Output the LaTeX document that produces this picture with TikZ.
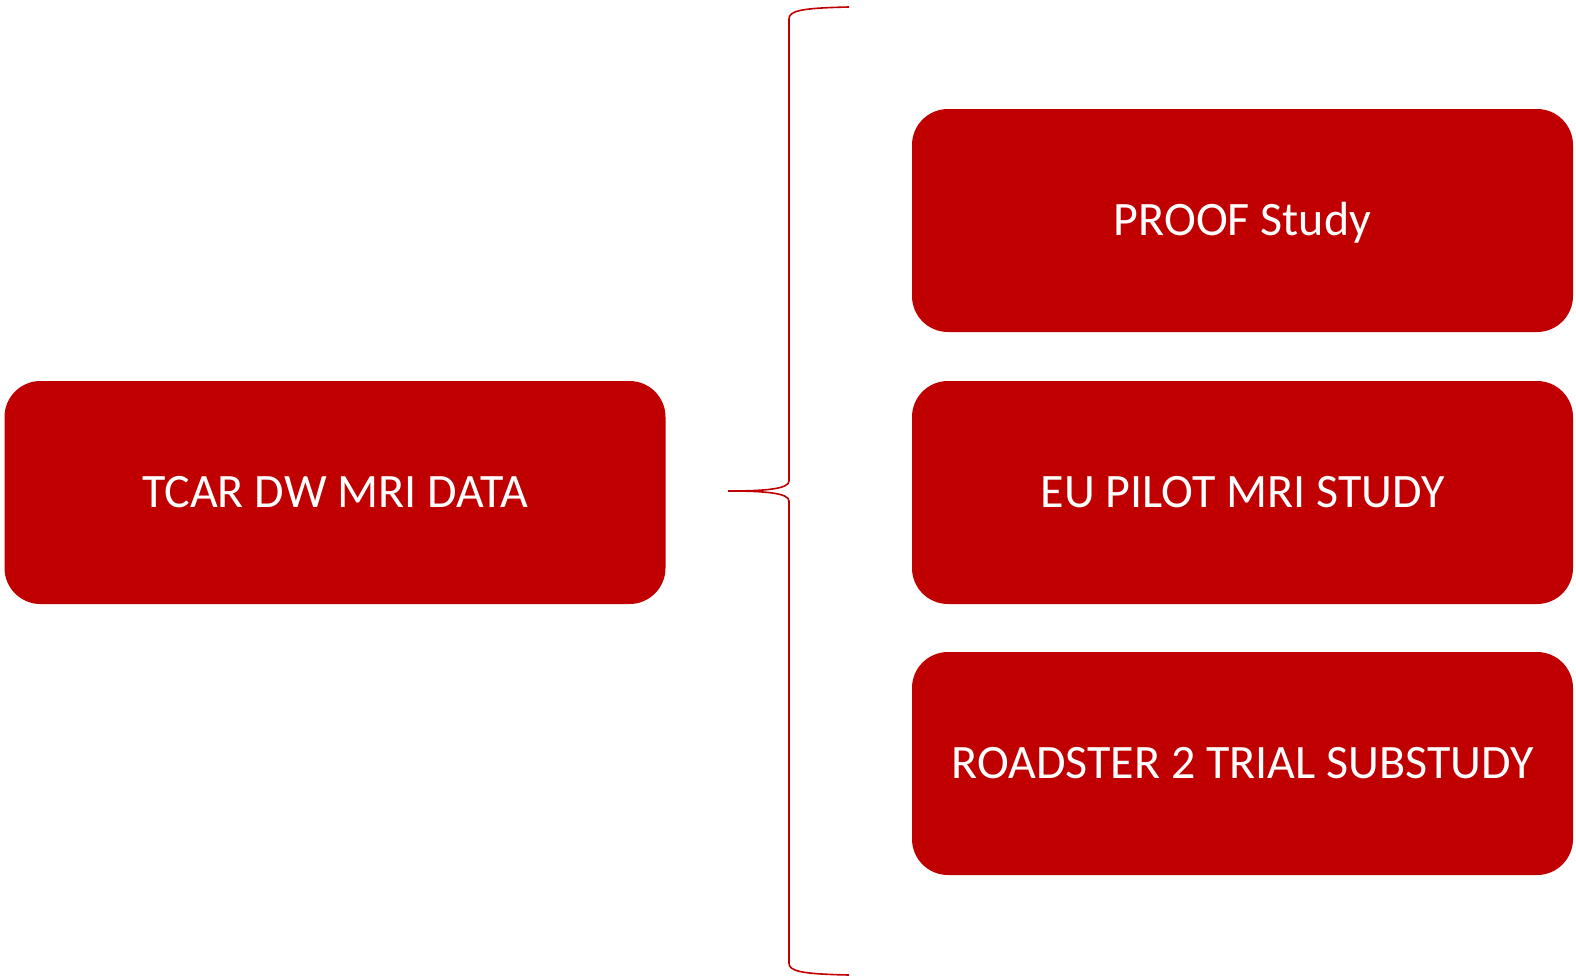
\documentclass[tikz,border=0pt]{standalone}
\usepackage{fontspec}
\setmainfont{Carlito}
\definecolor{boxred}{HTML}{C00000}
\tikzset{
  studybox/.style={fill=boxred, text=white, rounded corners=18pt, inner sep=0pt,
    minimum width=330.5pt, minimum height=111.5pt, text height=15pt, text depth=0pt,
    font=\fontsize{24}{29}\selectfont},
  bracket/.style={draw=boxred, line width=0.8pt}
}
\begin{document}
\begin{tikzpicture}[x=0.5pt, y=-0.5pt]
    \useasboundingbox (0,0) rectangle (1576,980);

    % source
    \node[studybox] (tcar) at (335,492.5) {TCAR DW MRI DATA};

    % studies
    \node[studybox] (proof) at (1242.5,220.5) {PROOF Study};
    \node[studybox] (eupilot) at (1242.5,492.5) {EU PILOT MRI STUDY};
    \node[studybox] (roadster) at (1242.5,763.5) {ROADSTER 2 TRIAL SUBSTUDY};

    % brace
    \coordinate (tip) at (728,491);
    \coordinate (top) at (849,7);
    \coordinate (bottom) at (849,975);
    \draw[bracket] (top) .. controls (800,8) and (789,11) .. (789,19)
      -- (789,481) .. controls (789,489) and (765,491) .. (tip)
      .. controls (765,491) and (789,493) .. (789,501)
      -- (789,963) .. controls (789,971) and (800,974) .. (bottom);
\end{tikzpicture}
\end{document}
